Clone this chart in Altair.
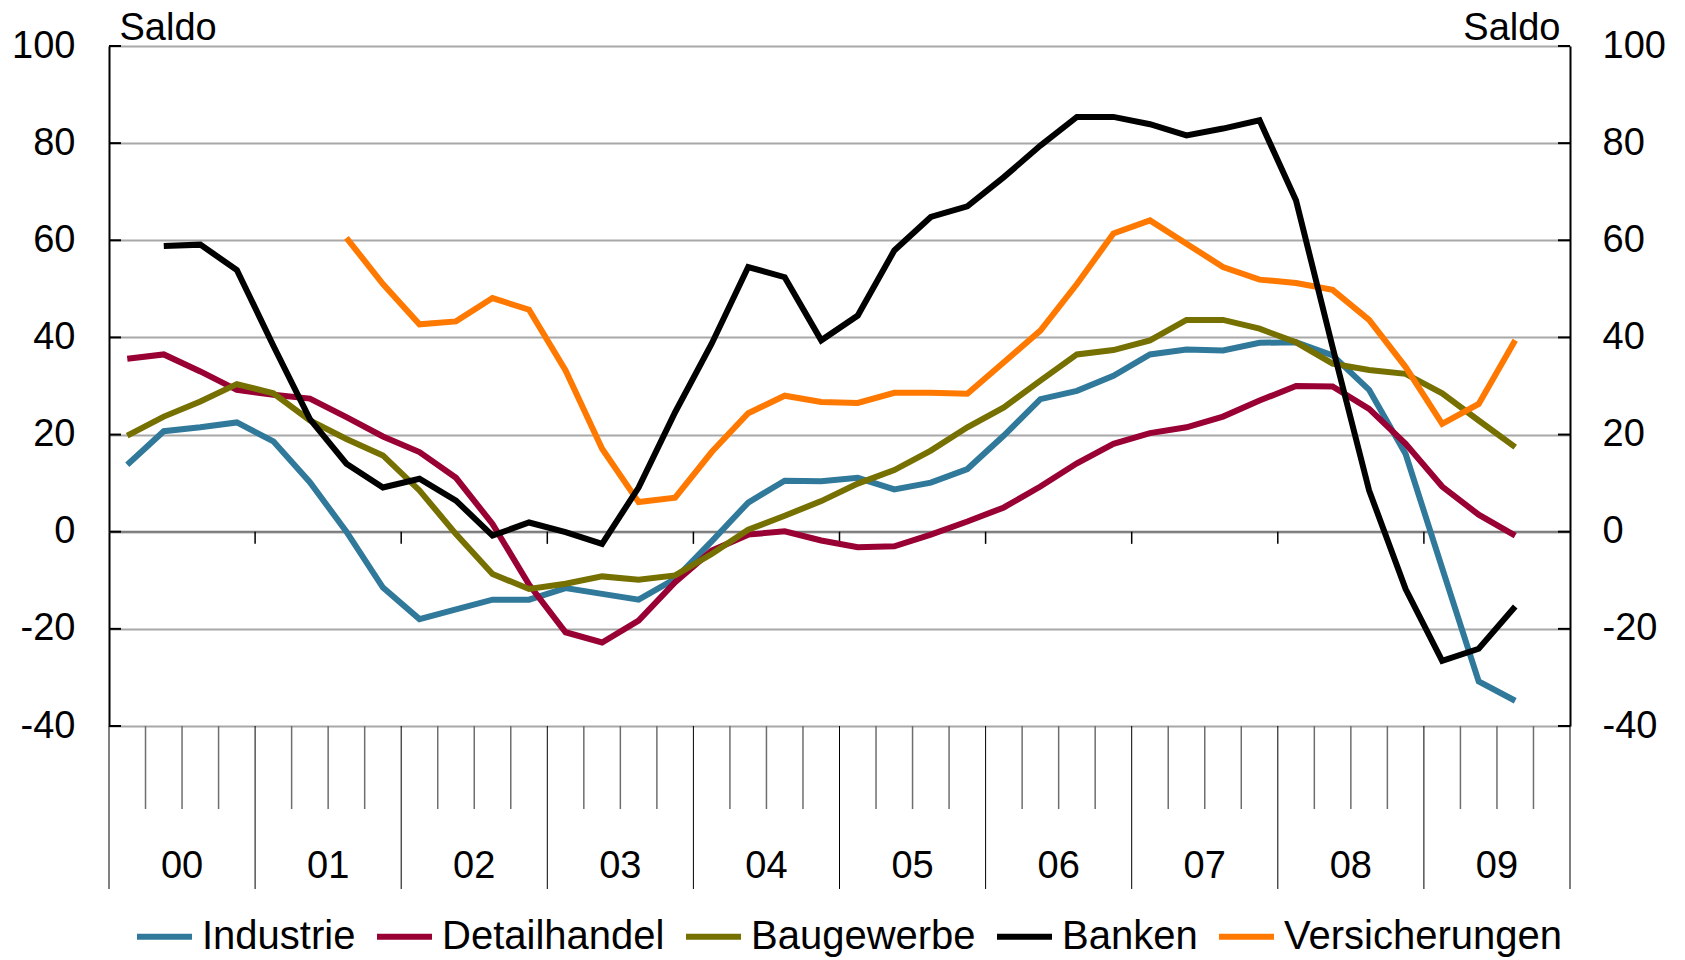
import altair as alt
import pandas as pd

# ---------------- data (quarterly, 2000Q1 .. 2009Q3) ----------------
series_names = ["Industrie", "Detailhandel", "Baugewerbe", "Banken", "Versicherungen"]
series_colors = ["#30799A", "#990033", "#757000", "#000000", "#FF7800"]
year_labels = ["00", "01", "02", "03", "04", "05", "06", "07", "08", "09"]

industrie = [13.8, 20.7, 21.5, 22.5, 18.6, 10.2, 0.0, -11.5, -18.0, -16.0,
             -14.0, -14.0, -11.6, -12.8, -14.0, -9.7, -2.0, 6.0, 10.5, 10.4,
             11.1, 8.7, 10.1, 12.9, 19.8, 27.3, 29.0, 32.1, 36.5, 37.5,
             37.3, 38.9, 39.0, 36.3, 29.2, 16.0, -7.5, -30.8, -34.8]
detailhandel = [35.6, 36.5, 33.0, 29.2, 28.2, 27.4, 23.6, 19.6, 16.4, 11.1,
                1.6, -10.9, -20.7, -22.8, -18.3, -10.4, -3.9, -0.6, 0.1, -1.8,
                -3.2, -3.0, -0.6, 2.1, 5.0, 9.3, 14.1, 18.1, 20.3, 21.5,
                23.7, 27.0, 30.0, 29.9, 25.3, 18.1, 9.3, 3.5, -0.8]
baugewerbe = [19.8, 23.7, 26.8, 30.4, 28.5, 22.9, 19.1, 15.7, 8.5, -0.5,
              -8.7, -11.8, -10.7, -9.2, -9.9, -9.0, -4.6, 0.4, 3.3, 6.3,
              9.9, 12.7, 16.7, 21.5, 25.6, 31.1, 36.5, 37.4, 39.4, 43.6,
              43.6, 41.8, 39.0, 34.6, 33.3, 32.5, 28.5, 22.9, 17.4]
banken = [None, 58.8, 59.1, 53.9, 38.3, 23.2, 14.0, 9.1, 10.9, 6.4,
          -0.8, 1.9, -0.1, -2.5, 9.1, 24.6, 38.7, 54.5, 52.4, 39.4,
          44.5, 57.9, 64.8, 67.0, 73.0, 79.5, 85.4, 85.4, 83.9, 81.6,
          83.0, 84.7, 68.2, 38.0, 8.5, -11.8, -26.6, -24.1, -15.4]
versicherungen = [None, None, None, None, None, None, 60.5, 51.0, 42.7, 43.3,
                  48.1, 45.7, 33.2, 17.1, 6.1, 7.0, 16.4, 24.4, 28.0, 26.7,
                  26.5, 28.6, 28.6, 28.4, 34.9, 41.4, 51.0, 61.4, 64.1, 59.3,
                  54.5, 51.9, 51.2, 49.8, 43.6, 33.9, 22.2, 26.3, 39.4]
y_ticks = [-40, -20, 0, 20, 40, 60, 80, 100]

# ---------------- tables ----------------
all_series = [industrie, detailhandel, baugewerbe, banken, versicherungen]
rows = []
for name, vals in zip(series_names, all_series):
    for i, v in enumerate(vals):
        if v is not None:
            rows.append({"serie": name, "q": i + 0.5, "saldo": v})
df = pd.DataFrame(rows)

n_years = len(year_labels)
n_q = 4 * n_years
quarter_bounds = pd.DataFrame({"k": [k for k in range(n_q + 1) if k % 4 != 0]})
year_bounds = pd.DataFrame({"k": [k for k in range(0, n_q + 1, 4)]})
inner_year_bounds = pd.DataFrame({"k": [k for k in range(4, n_q, 4)]})
year_df = pd.DataFrame({"mid": [4 * j + 2 for j in range(n_years)], "lab": year_labels})
ytick_df = pd.DataFrame({"v": y_ticks})

W, H = 1461, 680
FONT = "Liberation Sans"
LABEL_EXPR = "datum.value < 0 ? '-' + abs(datum.value) : '' + datum.value"

xscale = alt.Scale(domain=[0, n_q], nice=False, zero=False)
yscale = alt.Scale(domain=[-40, 100], nice=False, zero=False)

color_scale = alt.Scale(domain=series_names, range=series_colors)

left_axis = alt.Axis(values=y_ticks, grid=True, gridColor="#a8a8a8", gridWidth=2,
                     domain=True, domainColor="#000000", domainWidth=2,
                     ticks=False, tickSize=0, labelFontSize=38, labelColor="#000000",
                     labelPadding=34, labelExpr=LABEL_EXPR,
                     title="Saldo", titleAngle=0, titleX=10, titleY=-7,
                     titleAlign="left", titleBaseline="alphabetic", titleFontSize=38,
                     titleFontWeight="normal", titleColor="#000000", labelFont=FONT,
                     titleFont=FONT)
right_axis = alt.Axis(values=y_ticks, grid=False, orient="right",
                      domain=True, domainColor="#000000", domainWidth=2,
                      ticks=False, tickSize=0, labelFontSize=38, labelColor="#000000",
                      labelPadding=32, labelExpr=LABEL_EXPR,
                      title="Saldo", titleAngle=0, titleX=-10, titleY=-7,
                      titleAlign="right", titleBaseline="alphabetic", titleFontSize=38,
                      titleFontWeight="normal", titleColor="#000000", labelFont=FONT,
                      titleFont=FONT)

base = alt.Chart(df)

axis_left = alt.Chart(ytick_df).mark_rule(opacity=0).encode(
    y=alt.Y("v:Q", scale=yscale, axis=left_axis))
axis_right = alt.Chart(ytick_df).mark_rule(opacity=0).encode(
    y=alt.Y("v:Q", scale=yscale, axis=right_axis))

zero_line = alt.Chart(ytick_df).mark_rule(color="#7a7a7a", strokeWidth=2).encode(
    y=alt.Y("v:Q", scale=yscale, axis=None)).transform_filter("datum.v == 0")

ticks_left = alt.Chart(ytick_df).mark_rule(color="#000000", strokeWidth=2).encode(
    y=alt.Y("v:Q", scale=yscale, axis=None), x=alt.value(0), x2=alt.value(12))
ticks_right = alt.Chart(ytick_df).mark_rule(color="#000000", strokeWidth=2).encode(
    y=alt.Y("v:Q", scale=yscale, axis=None), x=alt.value(W - 12), x2=alt.value(W))

zero_ticks = alt.Chart(inner_year_bounds).mark_rule(color="#000000", strokeWidth=1.5).encode(
    x=alt.X("k:Q", scale=xscale, axis=None),
    y=alt.Y("z:Q", scale=yscale, axis=None), y2="z2:Q"
).transform_calculate(z="0", z2="-2.5")

q_ticks = alt.Chart(quarter_bounds).mark_rule(color="#6e6e6e", strokeWidth=1.5).encode(
    x=alt.X("k:Q", scale=xscale, axis=None), y=alt.value(H), y2=alt.value(H + 83))
y_sep = alt.Chart(year_bounds).mark_rule(color="#000000", strokeWidth=1).encode(
    x=alt.X("k:Q", scale=xscale, axis=None), y=alt.value(H), y2=alt.value(H + 163))
y_text = alt.Chart(year_df).mark_text(fontSize=38, font=FONT, color="#000000",
                                      baseline="middle", align="center").encode(
    x=alt.X("mid:Q", scale=xscale, axis=None), y=alt.value(H + 141), text="lab:N")

def line_layer(name):
    return base.mark_line(strokeWidth=6, strokeJoin="miter", strokeCap="butt").encode(
        x=alt.X("q:Q", scale=xscale, axis=None),
        y=alt.Y("saldo:Q", scale=yscale, axis=None),
        color=alt.Color("serie:N", scale=color_scale,
                        legend=alt.Legend(orient="none", legendX=25, legendY=860,
                                          direction="horizontal", title=None,
                                          symbolType="stroke", symbolSize=3025,
                                          symbolStrokeWidth=6, labelFontSize=40,
                                          labelFont=FONT, labelColor="#000000",
                                          labelOffset=7, columnPadding=9,
                                          padding=0, labelLimit=0)),
    ).transform_filter(alt.datum.serie == name)

draw_order = ["Industrie", "Detailhandel", "Baugewerbe", "Versicherungen", "Banken"]
lines = [line_layer(n) for n in draw_order]

chart = alt.layer(
    axis_left, axis_right, zero_line, ticks_left, ticks_right, zero_ticks,
    q_ticks, y_sep, y_text, *lines
).resolve_axis(y="independent").properties(
    width=W, height=H,
    autosize=alt.AutoSizeParams(type="none"),
    padding={"left": 101, "top": 38, "right": 100, "bottom": 234},
).configure_view(stroke=None).configure(font=FONT)

chart.save("out.html", embed_options={"renderer": "svg", "actions": False})
